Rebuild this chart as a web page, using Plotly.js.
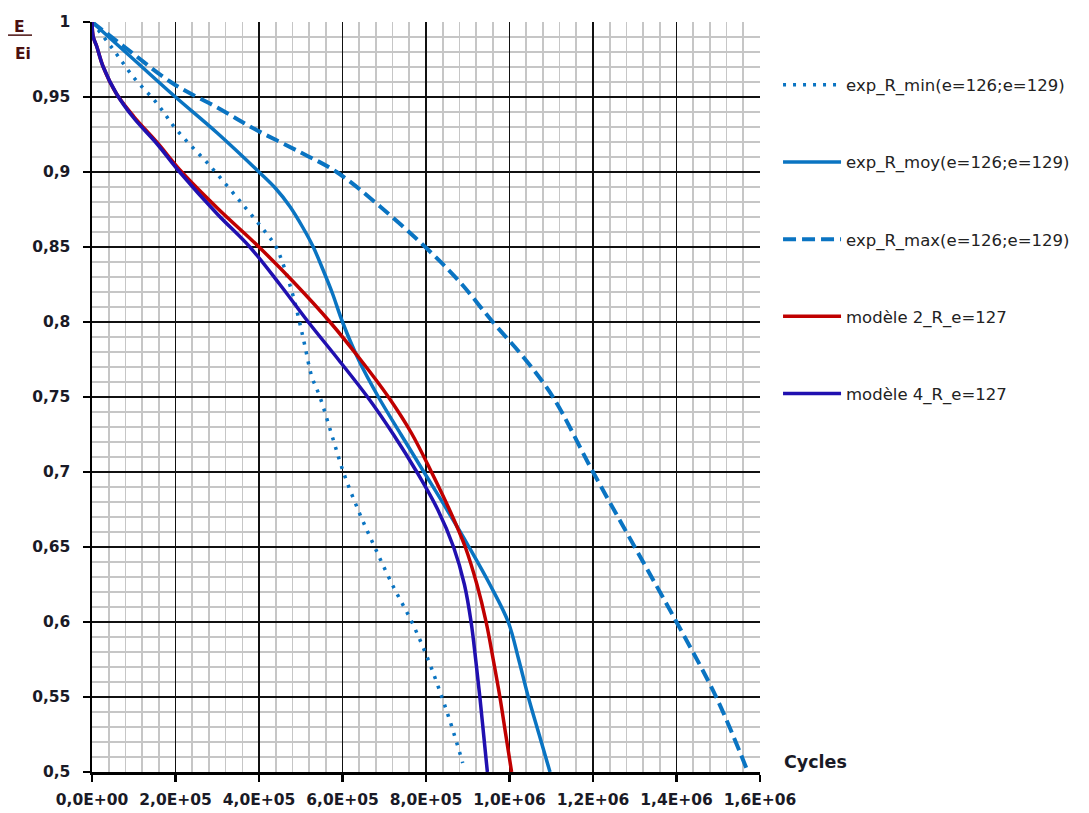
<!DOCTYPE html>
<html>
<head>
<meta charset="utf-8">
<script src="https://cdn.plot.ly/plotly-3.0.1.min.js"></script>
<style>html,body{margin:0;padding:0;background:#fff;}#chart{width:1089px;height:813px;}</style>
</head>
<body>
<div id="chart"></div>
<script>
// ---- data (cycles, E/Ei) ----
const minX = [0, 50000, 100000, 155000, 203000, 283000, 362000, 418000, 441000, 478000, 497000, 510000, 526000, 546000, 574000, 602000, 640000, 677000, 721000, 766000, 805000, 838000, 862000, 888000];
const minY = [1, 0.982, 0.963, 0.946, 0.928, 0.904, 0.878, 0.859, 0.85, 0.821, 0.8, 0.784, 0.764, 0.75, 0.725, 0.7, 0.673, 0.65, 0.624, 0.6, 0.575, 0.55, 0.53, 0.506];

const moyX = [0, 100000, 200000, 300000, 400000, 440000, 474000, 505000, 530000, 553000, 576000, 600000, 640000, 686000, 740000, 795000, 850000, 903000, 953000, 997000, 1022000, 1045000, 1071000, 1097000];
const moyY = [1, 0.975, 0.95, 0.926, 0.9, 0.889, 0.877, 0.863, 0.85, 0.835, 0.819, 0.8, 0.774, 0.75, 0.725, 0.7, 0.675, 0.65, 0.625, 0.6, 0.575, 0.55, 0.525, 0.5];

const maxX = [0, 75000, 194000, 300000, 394000, 500000, 586000, 690000, 802000, 880000, 960000, 1035000, 1104000, 1200000, 1300000, 1400000, 1495000, 1571000];
const maxY = [1, 0.984, 0.959, 0.943, 0.928, 0.913, 0.9, 0.877, 0.849, 0.827, 0.8, 0.776, 0.75, 0.7, 0.65, 0.6, 0.55, 0.5];

const m2X = [0, 3000, 11000, 27000, 59000, 100000, 155000, 215000, 300000, 400000, 485000, 570000, 640000, 710000, 765000, 813000, 856000, 894000, 922000, 944000, 961000, 977000, 991000, 1005000];
const m2Y = [1, 0.99, 0.984, 0.97, 0.952, 0.937, 0.92, 0.9, 0.876, 0.85, 0.826, 0.8, 0.776, 0.75, 0.726, 0.7, 0.675, 0.65, 0.625, 0.6, 0.575, 0.55, 0.525, 0.5];

const m4X = [0, 3000, 11000, 27000, 59000, 100000, 155000, 210000, 300000, 378000, 450000, 518000, 590000, 660000, 722000, 778000, 828000, 866000, 892000, 908000, 919000, 929000, 938000, 947000];
const m4Y = [1, 0.99, 0.984, 0.97, 0.952, 0.936, 0.919, 0.9, 0.872, 0.85, 0.825, 0.8, 0.775, 0.75, 0.725, 0.7, 0.675, 0.65, 0.625, 0.6, 0.575, 0.55, 0.525, 0.5];

const seriesNames = ["exp_R_min(e=126;e=129)", "exp_R_moy(e=126;e=129)", "exp_R_max(e=126;e=129)", "modèle 2_R_e=127", "modèle 4_R_e=127"];

const xTickVals = [0, 200000, 400000, 600000, 800000, 1000000, 1200000, 1400000, 1600000];
const xTickText = ["0,0E+00", "2,0E+05", "4,0E+05", "6,0E+05", "8,0E+05", "1,0E+06", "1,2E+06", "1,4E+06", "1,6E+06"];
const yTickVals = [0.5, 0.55, 0.6, 0.65, 0.7, 0.75, 0.8, 0.85, 0.9, 0.95, 1];
const yTickText = ["0,5", "0,55", "0,6", "0,65", "0,7", "0,75", "0,8", "0,85", "0,9", "0,95", "1"];

const BLUE = "#0A74C2", RED = "#C00000", PURPLE = "#2010B0";
const FONT = "'DejaVu Sans', Verdana, sans-serif";

function tr(x, y, name, color, dash, width, g) {
  return {x: x, y: y, name: name, type: "scatter", mode: "lines",
    line: {color: color, width: width, dash: dash, shape: "spline", smoothing: 1},
    legendgroup: g};
}
const data = [
  tr(minX, minY, seriesNames[0], BLUE, "3px,7px", 3.5, "a"),
  tr(moyX, moyY, seriesNames[1], BLUE, "solid", 3.5, "b"),
  tr(maxX, maxY, seriesNames[2], BLUE, "13px,6px", 4, "c"),
  tr(m2X, m2Y, seriesNames[3], RED, "solid", 3.5, "d"),
  tr(m4X, m4Y, seriesNames[4], PURPLE, "solid", 3.5, "e")
];

const tickFont = {family: FONT, size: 15.5, color: "#1a1a26", weight: "bold"};

const layout = {
  width: 1089, height: 813,
  margin: {l: 92, r: 329, t: 22, b: 41},
  paper_bgcolor: "#fff", plot_bgcolor: "#fff",
  showlegend: true,
  legend: {x: 1.027, xanchor: "left", y: 0.9393, yanchor: "top",
    traceorder: "grouped", tracegroupgap: 52.75, itemwidth: 58,
    font: {family: FONT, size: 16.5, color: "#222"},
    bgcolor: "rgba(0,0,0,0)"},
  xaxis: {range: [0, 1600000], tickmode: "array", tickvals: xTickVals, ticktext: xTickText,
    showline: true, linecolor: "#000", linewidth: 2.5, ticks: "outside", ticklen: 7, tickwidth: 2.5, tickcolor: "#000",
    showgrid: true, gridcolor: "#111", gridwidth: 1.3, zeroline: false,
    ticklabelstandoff: 5, tickfont: tickFont,
    minor: {tick0: 0, dtick: 40000, showgrid: true, gridcolor: "#c6c6c6", gridwidth: 1.6, ticks: ""}},
  yaxis: {range: [0.5, 1], tickmode: "array", tickvals: yTickVals, ticktext: yTickText,
    showline: true, linecolor: "#000", linewidth: 2.5, ticks: "outside", ticklen: 7, tickwidth: 2.5, tickcolor: "#000",
    showgrid: true, gridcolor: "#111", gridwidth: 1.3, zeroline: false,
    ticklabelstandoff: 9, tickfont: tickFont,
    minor: {tick0: 0.5, dtick: 0.01, showgrid: true, gridcolor: "#c6c6c6", gridwidth: 1.6, ticks: ""}},
  annotations: [
    {text: "E", xref: "paper", yref: "paper", x: -0.108, y: 0.994, xanchor: "center", yanchor: "middle", showarrow: false,
      font: {family: FONT, size: 15.5, color: "#4a1010", weight: "bold"}},
    {text: "Ei", xref: "paper", yref: "paper", x: -0.103, y: 0.958, xanchor: "center", yanchor: "middle", showarrow: false,
      font: {family: FONT, size: 15.5, color: "#4a1010", weight: "bold"}},
    {text: "Cycles", xref: "paper", yref: "paper", x: 1.083, y: 0.014, xanchor: "center", yanchor: "middle", showarrow: false,
      font: {family: FONT, size: 17.5, color: "#1a1a26", weight: "bold"}}
  ],
  shapes: [
    {type: "line", xref: "paper", yref: "paper", x0: -0.1257, x1: -0.0898, y0: 0.9825, y1: 0.9825, line: {color: "#4a1010", width: 1.5}}
  ]
};

Plotly.newPlot("chart", data, layout, {displayModeBar: false, staticPlot: true});
</script>
</body>
</html>
